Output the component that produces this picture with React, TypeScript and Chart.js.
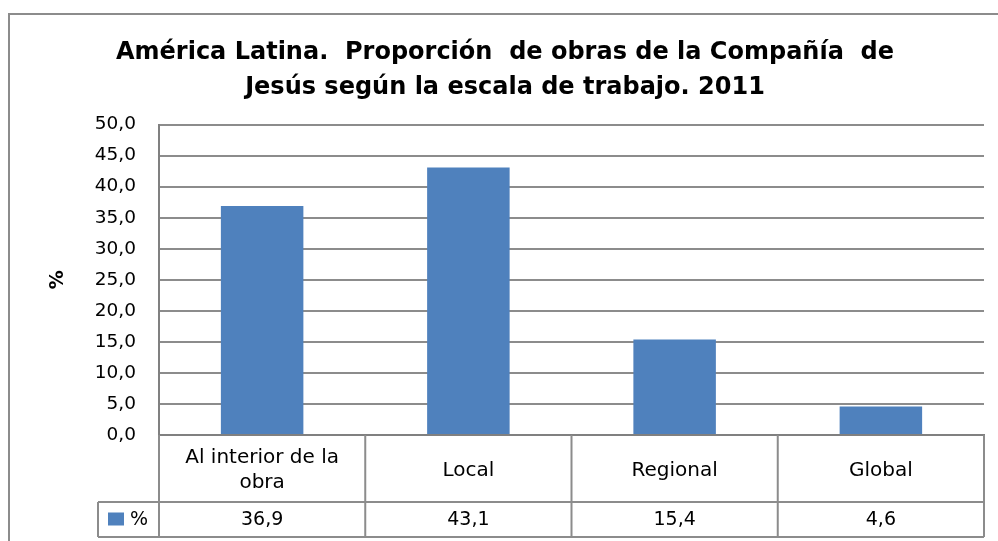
import React, { useEffect, useRef } from "react";
import { Chart, registerables } from "chart.js";

Chart.register(...registerables);

const categories: string[][] = [["Al interior de la", "obra"], ["Local"], ["Regional"], ["Global"]];
const seriesName = "%";
const values: number[] = [36.9, 43.1, 15.4, 4.6];
const valueLabels: string[] = ["36,9", "43,1", "15,4", "4,6"];
const titleLines: string[] = [
  "América Latina.  Proporción  de obras de la Compañía  de",
  "Jesús según la escala de trabajo. 2011",
];
const yTitle = "%";

const BAR = "#4F81BD";
const GRID = "#8C8C8C";
const FONT = "'DejaVu Sans', sans-serif";

const tablePlugin = {
  id: "excelTable",
  beforeDraw(chart: any) {
    const { ctx, width, height } = chart;
    ctx.save();
    ctx.fillStyle = "#ffffff";
    ctx.fillRect(0, 0, width, height);
    ctx.strokeStyle = "#8C8C8C";
    ctx.lineWidth = 2;
    ctx.beginPath();
    ctx.moveTo(9, height + 5);
    ctx.lineTo(9, 14);
    ctx.lineTo(width + 5, 14);
    ctx.stroke();
    ctx.restore();
  },
  afterDraw(chart: any) {
    const { ctx, chartArea } = chart;
    const xs = chart.scales.x;
    const n = categories.length;
    const cw = (chartArea.right - chartArea.left) / n;
    const top = chartArea.bottom;
    const mid = top + 67;
    const bot = top + 102;
    const legLeft = 98;
    ctx.save();
    ctx.strokeStyle = GRID;
    ctx.lineWidth = 2;
    ctx.beginPath();
    ctx.moveTo(chartArea.left, mid);
    ctx.lineTo(chartArea.right, mid);
    ctx.moveTo(legLeft, mid);
    ctx.lineTo(chartArea.left, mid);
    ctx.moveTo(legLeft, bot);
    ctx.lineTo(chartArea.right, bot);
    for (let i = 0; i <= n; i++) {
      const x = i === n ? chartArea.right : xs.getPixelForValue(i) - cw / 2;
      ctx.moveTo(x, top);
      ctx.lineTo(x, bot);
    }
    ctx.moveTo(legLeft, mid);
    ctx.lineTo(legLeft, bot);
    ctx.stroke();

    ctx.fillStyle = "#000";
    ctx.textAlign = "center";
    ctx.textBaseline = "middle";
    categories.forEach((lines, i) => {
      const x = xs.getPixelForValue(i);
      const lh = 25;
      const cy = (top + mid) / 2 + 2;
      const y0 = cy - ((lines.length - 1) * lh) / 2;
      ctx.font = `20px ${FONT}`;
      lines.forEach((l, j) => ctx.fillText(l, x, y0 + j * lh));
      ctx.font = `19px ${FONT}`;
      ctx.fillText(valueLabels[i], x, (mid + bot) / 2 + 1);
    });
    ctx.fillStyle = BAR;
    ctx.fillRect(108, (mid + bot) / 2 - 7, 16, 13);
    ctx.fillStyle = "#000";
    ctx.textAlign = "left";
    ctx.font = `19px ${FONT}`;
    ctx.fillText(seriesName, 130, (mid + bot) / 2 + 1);
    ctx.restore();
  },
};

export default function App() {
  const ref = useRef<HTMLCanvasElement | null>(null);
  useEffect(() => {
    if (!ref.current) return;
    const chart = new Chart(ref.current, {
      type: "bar",
      data: {
        labels: categories.map((c) => c.join(" ")),
        datasets: [
          {
            label: seriesName,
            data: values,
            backgroundColor: BAR,
            categoryPercentage: 1,
            barPercentage: 0.4,
          },
        ],
      },
      options: {
        animation: false,
        responsive: false,
        devicePixelRatio: 1,
        layout: { padding: { left: 26, right: 14, top: 14, bottom: 106 } },
        plugins: {
          legend: { display: false },
          tooltip: { enabled: false },
          title: {
            display: true,
            text: titleLines,
            color: "#000",
            font: { family: FONT, size: 24, weight: "bold", lineHeight: 1.47 },
            padding: { top: 21, bottom: 19 },
          },
        },
        scales: {
          x: {
            grid: { display: false, drawTicks: false },
            ticks: { display: false },
            border: { display: true, color: "#808080", width: 2 },
          },
          y: {
            min: 0,
            max: 50,
            ticks: {
              stepSize: 5,
              padding: 23,
              color: "#000",
              font: { family: FONT, size: 18.5 },
              callback: (v: any) => Number(v).toFixed(1).replace(".", ","),
            },
            grid: { color: GRID, lineWidth: 2, drawTicks: false },
            border: { display: true, color: "#808080", width: 2 },
            title: {
              display: true,
              text: yTitle,
              color: "#000",
              font: { family: FONT, size: 19, weight: "bold" },
              padding: { top: 20.5, bottom: 0 },
            },
            afterFit: (scale: any) => {
              scale.width = 133;
            },
          },
        },
      },
      plugins: [tablePlugin],
    });
    return () => chart.destroy();
  }, []);
  return (
    <div style={{ position: "fixed", left: 0, top: 0, width: 998, height: 541, background: "#fff" }}>
      <canvas ref={ref} width={998} height={541} style={{ display: "block" }} />
    </div>
  );
}
